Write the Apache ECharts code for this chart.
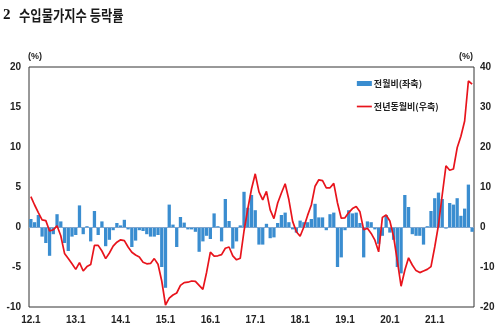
<!DOCTYPE html>
<html>
<head>
<meta charset="utf-8">
<script src="https://cdn.jsdelivr.net/npm/echarts@6/dist/echarts.min.js"></script>
<style>
html,body{margin:0;padding:0;background:#fff;}
#chart{width:500px;height:333px;}
</style>
</head>
<body>
<div id="chart"></div>
<script>
// Categories: monthly, 2012.1 - 2021.11
const startYear = 12, endYear = 21, endMonth = 11;
const categories = [];
for (let y = startYear; y <= endYear; y++) {
  for (let m = 1; m <= 12; m++) {
    if (y === endYear && m > endMonth) break;
    categories.push(y + '.' + m);
  }
}
const leftTicks = [-10, -5, 0, 5, 10, 15, 20];
const rightTicks = [-20, -10, 0, 10, 20, 30, 40];

// 전월비 (month-on-month, %, left axis)
const momValues = [
  1.0, 0.6, 1.5, -1.2, -2.0, -3.6, -0.9, 1.6, 0.7, -2.0,
  -3.0, -1.2, -1.0, 2.7, -0.9, 0.1, -1.8, 2.0, -1.0, 0.7,
  -2.4, -1.6, -0.4, 0.5, 0.2, 0.9, -0.3, -2.5, -1.7, -0.4,
  -0.5, -0.9, -1.2, -1.2, -1.0, -5.0, -7.6, 2.8, 0.3, -2.5,
  1.25, 0.55, -0.3, -0.3, -0.6, -3.1, -1.8, -1.1, -1.5, 1.7,
  0.1, -1.8, 3.5, 0.75, -2.7, -1.8, 0.2, 4.4, 2.4, 4.0,
  2.1, -2.2, -2.2, 0.4, -1.4, -1.3, 0.5, 1.5, 1.8, 0.6,
  -0.3, -0.7, 0.8, 0.6, 0.6, 1.0, 2.9, 1.2, 1.2, -0.4,
  1.6, 1.8, -5.0, -3.8, -0.4, 2.1, 1.7, 1.8, 0.5, -3.8,
  0.7, 0.6, -0.3, -2.1, -1.1, 1.5, -0.7, -1.6, -5.0, -5.8,
  4.0, 2.5, -0.9, -1.1, -1.1, -2.2, 0.1, 2.0, 3.6, 4.3,
  3.5, -0.2, 3.0, 2.8, 3.6, 1.4, 2.3, 5.3, -0.6
];

// 전년동월비 (year-on-year, %, right axis)
const yoyValues = [
  7.6, 5.5, 3.6, 1.8, 1.6, -1.0, -0.7, 0.3, -2.2, -6.6,
  -7.9, -9.2, -10.6, -8.9, -11.0, -9.9, -9.4, -4.6, -4.6, -6.0,
  -7.9, -6.5, -4.8, -3.8, -3.2, -3.4, -5.0, -6.3, -7.0, -7.5,
  -8.8, -9.2, -9.1, -7.9, -9.3, -13.5, -19.5, -17.8, -17.0, -16.5,
  -14.6, -13.9, -13.8, -13.5, -13.6, -14.6, -15.6, -11.3, -6.3, -7.3,
  -7.2, -6.9, -5.3, -5.0, -7.2, -8.2, -7.8, -1.0, 4.5, 9.5,
  13.3, 8.8, 6.8, 8.9, 4.3, 2.1, 6.0, 8.5, 10.8, 6.8,
  1.4, -1.2, -2.3, 0.0, 2.9, 5.5, 10.2, 11.8, 11.6, 9.8,
  9.8, 10.9, 6.0, 2.2, 2.3, 3.6, 4.6, 5.1, 3.8, -0.7,
  -0.3, -1.6, -3.3, -6.2, 2.4, 3.0, 1.5, -2.4, -8.5, -14.8,
  -10.8, -7.7, -9.5, -10.9, -11.4, -11.0, -10.6, -9.9, -5.0, 0.5,
  8.0, 15.3, 14.2, 14.5, 19.8, 22.7, 26.5, 36.5, 35.7
];

const seriesNames = ['전월비(좌축)', '전년동월비(우축)'];
const titleNum = '2';
const titleText = '수입물가지수 등락률';
const unitText = '(%)';

const chart = echarts.init(document.getElementById('chart'), null, {renderer: 'canvas'});
const numFont = 'Arial, "Liberation Sans", sans-serif';
const korFont = '"Noto Sans CJK KR", sans-serif';
const axisLabelStyle = {fontSize: 10, fontWeight: 'bold', color: '#222', fontFamily: numFont};
const lineColor = '#e8141c';
const barColor = '#3a8dd0';

chart.setOption({
  animation: false,
  backgroundColor: '#fff',
  grid: {left: 29, right: 26, top: 67, bottom: 26, show: true, borderColor: '#333', borderWidth: 1, containLabel: false},
  legend: {
    orient: 'vertical', left: 351, top: 74, itemWidth: 15, itemHeight: 5, itemGap: 14,
    textStyle: {fontSize: 9, fontWeight: 'bold', color: '#222', fontFamily: korFont, padding: [0, 0, 0, -3]},
    data: [
      {name: seriesNames[0], icon: 'rect'},
      {name: seriesNames[1], itemStyle: {color: 'rgba(0,0,0,0)', borderWidth: 0, opacity: 0},
       lineStyle: {color: lineColor, width: 1.7, opacity: 1}}
    ]
  },
  xAxis: {
    type: 'category', data: categories, boundaryGap: true,
    axisLine: {show: false}, axisTick: {show: false}, splitLine: {show: false},
    axisLabel: Object.assign({interval: 11, margin: 8}, axisLabelStyle)
  },
  yAxis: [
    {type: 'value', min: leftTicks[0], max: leftTicks[leftTicks.length - 1], interval: 5,
     axisLine: {show: false}, axisTick: {show: false}, splitLine: {show: false},
     axisLabel: Object.assign({margin: 8}, axisLabelStyle)},
    {type: 'value', min: rightTicks[0], max: rightTicks[rightTicks.length - 1], interval: 10,
     axisLine: {show: false}, axisTick: {show: false}, splitLine: {show: false},
     axisLabel: Object.assign({margin: 6}, axisLabelStyle)}
  ],
  graphic: [
    {type: 'text', left: 3, top: 8, style: {text: titleNum, font: 'bold 15px "Liberation Serif", serif', fill: '#111'}},
    {type: 'text', left: 19, top: 8, scaleX: 0.82, style: {text: titleText, font: 'bold 15px ' + korFont, fill: '#1a1a1a'}},
    {type: 'text', left: 28, top: 52, style: {text: unitText, font: 'bold 9px ' + numFont, fill: '#222'}},
    {type: 'text', left: 459, top: 52, style: {text: unitText, font: 'bold 9px ' + numFont, fill: '#222'}}
  ],
  series: [
    {
      name: seriesNames[0], type: 'bar', yAxisIndex: 0, data: momValues,
      barCategoryGap: '12%', itemStyle: {color: barColor},
      markLine: {silent: true, symbol: 'none', label: {show: false},
        lineStyle: {color: '#7ea6cf', width: 1, type: 'solid'}, data: [{yAxis: 0}]}
    },
    {
      name: seriesNames[1], type: 'line', yAxisIndex: 1, data: yoyValues,
      symbol: 'none', showSymbol: false, z: 5,
      lineStyle: {color: lineColor, width: 1.7}, itemStyle: {color: lineColor}
    }
  ]
});
</script>
</body>
</html>
